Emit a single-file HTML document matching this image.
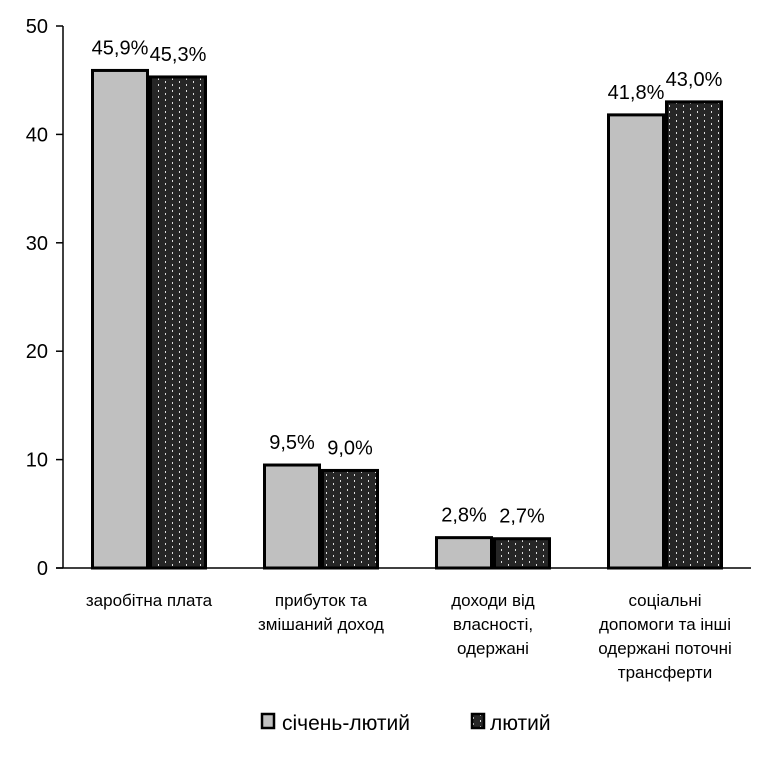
<!DOCTYPE html>
<html><head><meta charset="utf-8"><style>
body{margin:0;background:#fff;}
text{font-family:"Liberation Sans",sans-serif;fill:#000;}
</style></head><body>
<svg width="783" height="778">
<defs><pattern id="dots" width="14" height="6" patternUnits="userSpaceOnUse">
<rect width="14" height="6" fill="#262626"/><rect x="4" y="0" width="1" height="2" fill="#ddd"/><rect x="11" y="3" width="1" height="2" fill="#ddd"/></pattern></defs>
<g id="axes"></g><g id="bars"></g><g id="labels"></g>
<g>
<rect x="262" y="714" width="12" height="14" fill="#c0c0c0" stroke="#000" stroke-width="2.5"/>
<text x="282" y="730" font-size="21">січень-лютий</text>
<rect x="472" y="714" width="12" height="14" fill="url(#dots)" stroke="#000" stroke-width="2.5"/>
<text x="490" y="730" font-size="21">лютий</text>
</g>
</svg>
<script>
const categories=[["заробітна плата"],["прибуток та","змішаний доход"],["доходи від","власності,","одержані"],["соціальні","допомоги та інші","одержані поточні","трансферти"]];
const seriesJanFeb=[45.9,9.5,2.8,41.8];
const seriesFeb=[45.3,9.0,2.7,43.0];
const yTicks=[0,10,20,30,40,50];
const NS="http://www.w3.org/2000/svg";
const x0=63,y0=568,yTop=26,catW=172,barW=58;
const y=v=>y0-(v/50)*(y0-yTop);
const cx=i=>x0+catW*(i+0.5);
function mk(t,a,p){const e=document.createElementNS(NS,t);for(const k in a)e.setAttribute(k,a[k]);p.appendChild(e);return e;}
const ax=document.getElementById('axes'),bg=document.getElementById('bars'),lg=document.getElementById('labels');
const yl=mk('line',{x1:x0,y1:yTop,x2:x0,y2:y0,stroke:'#000','stroke-width':1.5},ax);


const xl=mk('line',{x1:56,y1:y0,x2:x0+catW*4,y2:y0,stroke:'#000','stroke-width':1.5},ax);


yTicks.forEach(v=>{
 mk('line',{x1:56,y1:y(v),x2:x0,y2:y(v),stroke:'#000','stroke-width':1.5},ax);
 const t=mk('text',{x:48,y:y(v)+7,'font-size':20,'text-anchor':'end'},ax);t.textContent=v;
 
 
});
const fmt=v=>v.toFixed(1).replace('.',',')+'%';
categories.forEach((c,i)=>{
 [[seriesJanFeb[i],'#c0c0c0',-barW,'bar-jan-feb'],[seriesFeb[i],'url(#dots)',0,'bar-feb']].forEach(([v,f,off,n])=>{
  const r=mk('rect',{x:cx(i)+off+1.5,y:y(v),width:barW-3,height:y0-y(v),fill:f,stroke:'#000','stroke-width':3},bg);
  
  
  const t=mk('text',{x:cx(i)+off+barW/2,y:y(v)-16,'font-size':20,'text-anchor':'middle'},lg);t.textContent=fmt(v);
  
  
 });
 c.forEach((line,j)=>{
  const t=mk('text',{x:cx(i),y:606+j*24,'font-size':17,'text-anchor':'middle'},lg);t.textContent=line;
  
  
 });
});
</script>
</body></html>
